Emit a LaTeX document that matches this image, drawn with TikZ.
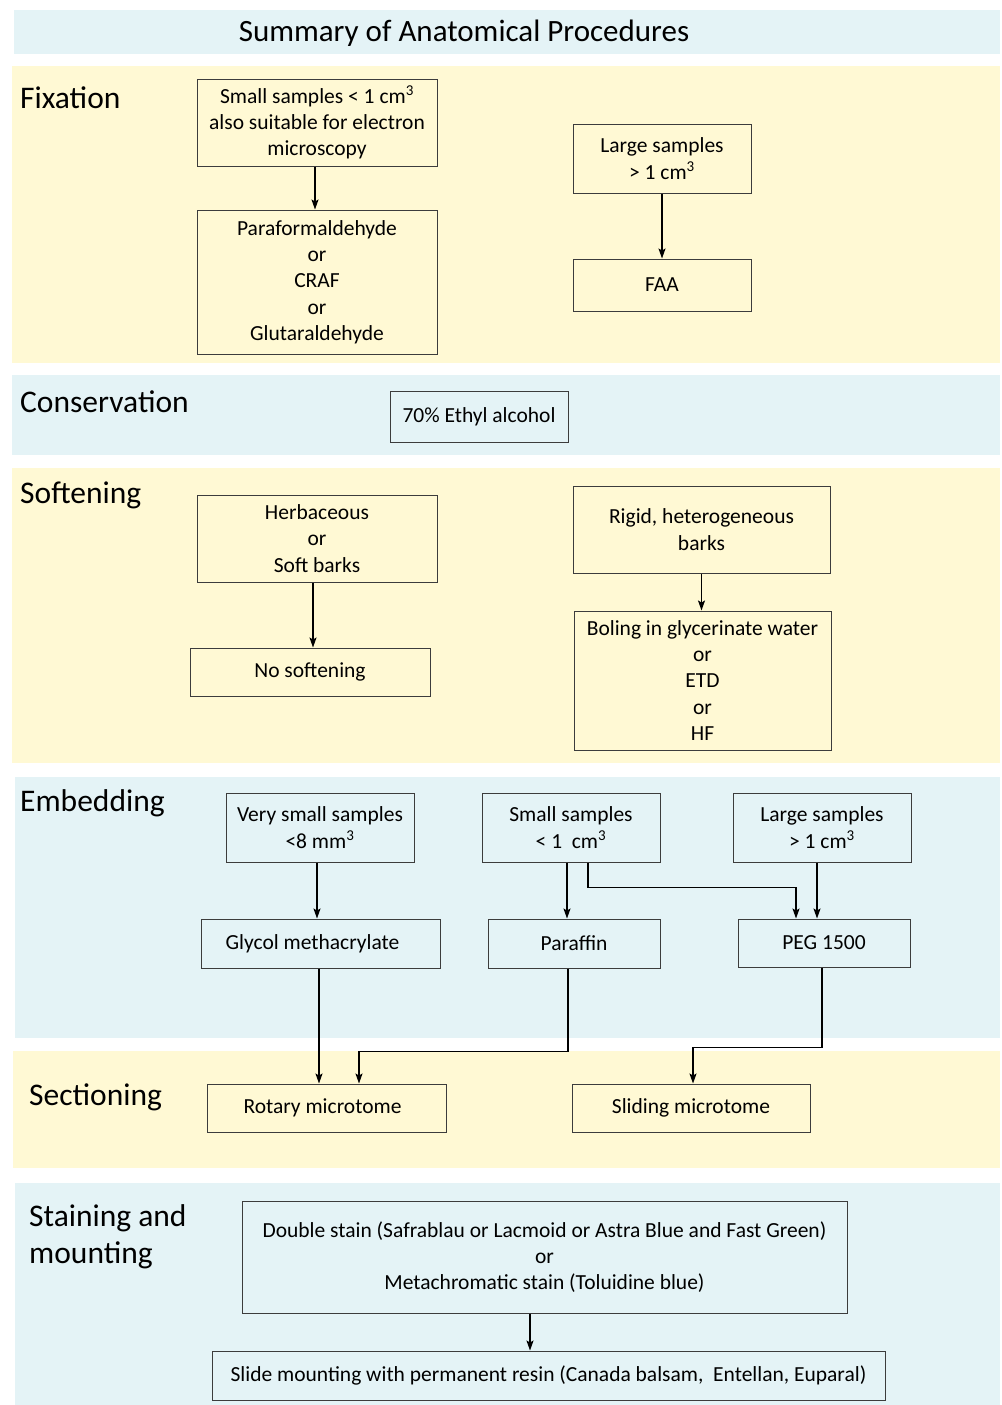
\documentclass[tikz,border=0pt]{standalone}
\usepackage{fontspec}
\setmainfont{Carlito}
\usetikzlibrary{arrows.meta}
\definecolor{bandblue}{RGB}{228,243,246}
\definecolor{bandyellow}{RGB}{255,249,212}
\definecolor{boxline}{RGB}{60,60,60}
\begin{document}
\begin{tikzpicture}[x=1pt,y=-1pt,
  box/.style={draw=boxline, line width=1pt, inner sep=0pt, align=center,
    font=\fontsize{21.5}{26.3}\selectfont},
  arr/.style={line width=1.4pt, -{Stealth[length=10pt,width=7pt,inset=2pt]}},
  seclabel/.style={anchor=base west, inner sep=0pt, font=\fontsize{31.5}{37}\selectfont},
]
\useasboundingbox[fill=white] (0,0) rectangle (1001,1405);
% bands
\fill[bandblue] (14,10) rectangle (1000,54);
\fill[bandyellow] (12,66) rectangle (1000,363);
\fill[bandblue] (12,375) rectangle (1000,455);
\fill[bandyellow] (12,468) rectangle (1000,763);
\fill[bandblue] (15,777) rectangle (1000,1038);
\fill[bandyellow] (13,1051) rectangle (1000,1168);
\fill[bandblue] (15,1183) rectangle (1000,1405);
% title and section labels
\node[anchor=base, inner sep=0pt, font=\fontsize{31}{36}\selectfont] (title) at (464,42) {Summary of Anatomical Procedures};
\node[seclabel] (lfix) at (20,108) {Fixation};
\node[seclabel] (lcons) at (20,412) {Conservation};
\node[seclabel] (lsoft) at (20,503) {Softening};
\node[seclabel] (lemb) at (20,811) {Embedding};
\node[seclabel] (lsect) at (29,1105) {Sectioning};
\node[seclabel, align=left] (lstain) at (29,1263) {Staining and\\mounting};
% Fixation
\node[box, minimum width=240, minimum height=87] (small) at (317,122.5) {Small samples < 1 cm\textsuperscript{3}\\also suitable for electron\\microscopy};
\node[box, minimum width=240, minimum height=144] (para) at (317,282) {Paraformaldehyde\\or\\CRAF\\or\\Glutaraldehyde};
\node[box, minimum width=178, minimum height=69] (large) at (662,158.5) {Large samples\\> 1 cm\textsuperscript{3}};
\node[box, minimum width=178, minimum height=52] (faa) at (662,285) {FAA};
% Conservation
\node[box, minimum width=178, minimum height=51] (ethyl) at (479,416.5) {70\% Ethyl alcohol};
% Softening
\node[box, minimum width=240, minimum height=87] (herb) at (317,538.5) {Herbaceous\\or\\Soft barks};
\node[box, minimum width=240, minimum height=48] (nosoft) at (310,672) {No softening};
\node[box, minimum width=257, minimum height=87] (rigid) at (701.5,529.5) {Rigid, heterogeneous\\barks};
\node[box, minimum width=257, minimum height=139] (boil) at (702.5,680.5) {Boling in glycerinate water\\or\\ETD\\or\\HF};
% Embedding
\node[box, minimum width=188, minimum height=69] (vsmall) at (320,827.5) {Very small samples\\<8 mm\textsuperscript{3}};
\node[box, minimum width=178, minimum height=69] (small2) at (571,827.5) {Small samples\\< 1~~cm\textsuperscript{3}};
\node[box, minimum width=178, minimum height=69] (large2) at (822,827.5) {Large samples\\> 1 cm\textsuperscript{3}};
\node[box, minimum width=239, minimum height=49] (glycol) at (320.5,943.5) {Glycol methacrylate\hspace*{16pt}};
\node[box, minimum width=172, minimum height=49] (paraffin) at (574,943.5) {Paraffin};
\node[box, minimum width=172, minimum height=48] (peg) at (824,943) {PEG 1500};
% Sectioning
\node[box, minimum width=239, minimum height=48] (rotary) at (326.5,1108) {Rotary microtome\hspace*{8pt}};
\node[box, minimum width=238, minimum height=48] (sliding) at (691,1108) {Sliding microtome};
% Staining and mounting
\node[box, minimum width=605, minimum height=112] (dstain) at (544.5,1257) {Double stain (Safrablau or Lacmoid or Astra Blue and Fast Green)\\or\\Metachromatic stain (Toluidine blue)};
\node[box, minimum width=673, minimum height=49] (slide) at (548.5,1375.5) {Slide mounting with permanent resin (Canada balsam,~ Entellan, Euparal)};
% connectors
\draw[arr] ([xshift=-2]small.south) -- ([xshift=-2]small.south |- para.north);
\draw[arr] (large.south) -- (faa.north);
\draw[arr] ([xshift=-4]herb.south) -- ([xshift=-4]herb.south |- nosoft.north);
\draw[arr] (rigid.south) -- (rigid.south |- boil.north);
\draw[arr] ([xshift=-3]vsmall.south) -- ([xshift=-3]vsmall.south |- glycol.north);
\draw[arr] ([xshift=-4]small2.south) -- ([xshift=-4]small2.south |- paraffin.north);
\draw[arr] ([xshift=17]small2.south) -- ++(0,25) -| ([xshift=-28]peg.north);
\draw[arr] ([xshift=-5]large2.south) -- ([xshift=-5]large2.south |- peg.north);
\draw[arr] ([xshift=-1.5]glycol.south) -- ([xshift=-1.5]glycol.south |- rotary.north);
\draw[arr] ([xshift=-6]paraffin.south) -- ++(0,83) -| ([xshift=32.5]rotary.north);
\draw[arr] ([xshift=-2]peg.south) -- ++(0,80) -| ([xshift=2]sliding.north);
\draw[arr] ([xshift=-14.5]dstain.south) -- ([xshift=-14.5]dstain.south |- slide.north);
\end{tikzpicture}
\end{document}
